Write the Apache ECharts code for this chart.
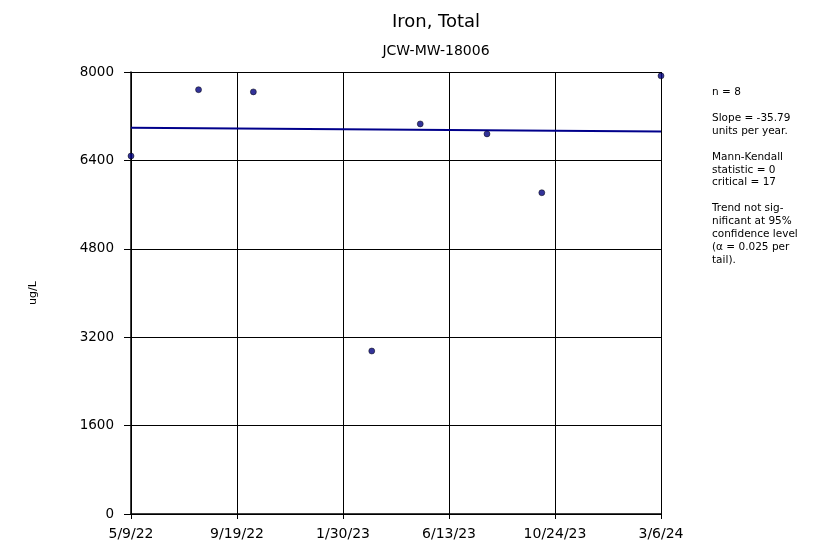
<!DOCTYPE html>
<html>
<head>
<meta charset="utf-8">
<script src="https://cdn.jsdelivr.net/npm/echarts@6/dist/echarts.min.js"></script>
<style>html,body{margin:0;padding:0;background:#fff}#c{width:820px;height:545px}</style>
</head>
<body>
<div id="c"></div>
<script>
var startDate = '2022-05-09';
var endDate = '2024-03-06';
var sampleDates = ['2022-05-09','2022-08-02','2022-10-10','2023-03-08','2023-05-08','2023-07-31','2023-10-08','2024-03-06'];
var sampleValues = [6480, 7680, 7640, 2950, 7060, 6880, 5815, 7930];
var trendDates = ['2022-05-09','2024-03-06'];
var trendValues = [6990, 6925];
var yTicks = [0, 1600, 3200, 4800, 6400, 8000];
var noteLines = ['n = 8','','Slope = -35.79','units per year.','','Mann-Kendall','statistic = 0','critical = 17','','Trend not sig-','nificant at 95%','confidence level','(\u03b1 = 0.025 per','tail).'];

var DAY = 86400000;
function toDay(s){ var p = s.split('-'); return Math.round((Date.UTC(+p[0], +p[1]-1, +p[2]) - Date.UTC(2022,4,9)) / DAY); }
var x0 = toDay(startDate), x1 = toDay(endDate);
function fmtDay(v){
  var d = new Date(Date.UTC(2022,4,9) + Math.floor(v + 1e-6) * DAY);
  return (d.getUTCMonth()+1) + '/' + d.getUTCDate() + '/' + String(d.getUTCFullYear()).slice(2);
}
var pts = sampleDates.map(function(s,i){ return [toDay(s), sampleValues[i]]; });
var trend = trendDates.map(function(s,i){ return [toDay(s), trendValues[i]]; });

var chart = echarts.init(document.getElementById('c'));
var font = 'DejaVu Sans, sans-serif';
chart.setOption({
  animation: false,
  backgroundColor: '#fff',
  title: [
    {text: 'Iron, Total', left: 431, top: 8, textAlign: 'center', textStyle: {fontFamily: font, fontSize: 18, fontWeight: 'normal', color: '#000'}},
    {text: 'JCW-MW-18006', left: 431, top: 39, textAlign: 'center', textStyle: {fontFamily: font, fontSize: 14, fontWeight: 'normal', color: '#000'}}
  ],
  grid: {left: 131, right: 159, top: 72, bottom: 31, containLabel: false},
  xAxis: {
    type: 'value', min: x0, max: x1, interval: (x1 - x0) / 5,
    axisLine: {show: true, lineStyle: {color: '#000', width: 1.5}},
    axisTick: {show: true, length: 5, lineStyle: {color: '#000'}},
    splitLine: {show: true, lineStyle: {color: '#000', width: 1}},
    axisLabel: {formatter: fmtDay, fontFamily: font, fontSize: 14, color: '#000', margin: 13, showMaxLabel: true, showMinLabel: true}
  },
  yAxis: {
    type: 'value', min: yTicks[0], max: yTicks[yTicks.length-1], interval: yTicks[1]-yTicks[0],
    name: 'ug/L', nameLocation: 'middle', nameGap: 92, nameRotate: 90,
    nameTextStyle: {fontFamily: font, fontSize: 11, color: '#000'},
    axisLine: {show: true, lineStyle: {color: '#000', width: 1.5}},
    axisTick: {show: true, length: 7, lineStyle: {color: '#000'}},
    splitLine: {show: true, lineStyle: {color: '#000', width: 1}},
    axisLabel: {formatter: function(v){ return String(v); }, fontFamily: font, fontSize: 13.5, color: '#000', margin: 17}
  },
  series: [
    {type: 'line', data: trend, symbol: 'none', lineStyle: {color: '#00008B', width: 2}, z: 3},
    {type: 'scatter', data: pts, symbol: 'circle', symbolSize: 6, itemStyle: {color: '#000080', borderColor: '#000', borderWidth: 0.6}, z: 4}
  ],
  graphic: [{
    type: 'text', left: 712, top: 86,
    style: {text: noteLines.join('\n'), font: '10.5px DejaVu Sans, sans-serif', fill: '#000', lineHeight: 12.9}
  }]
});
</script>
</body>
</html>
